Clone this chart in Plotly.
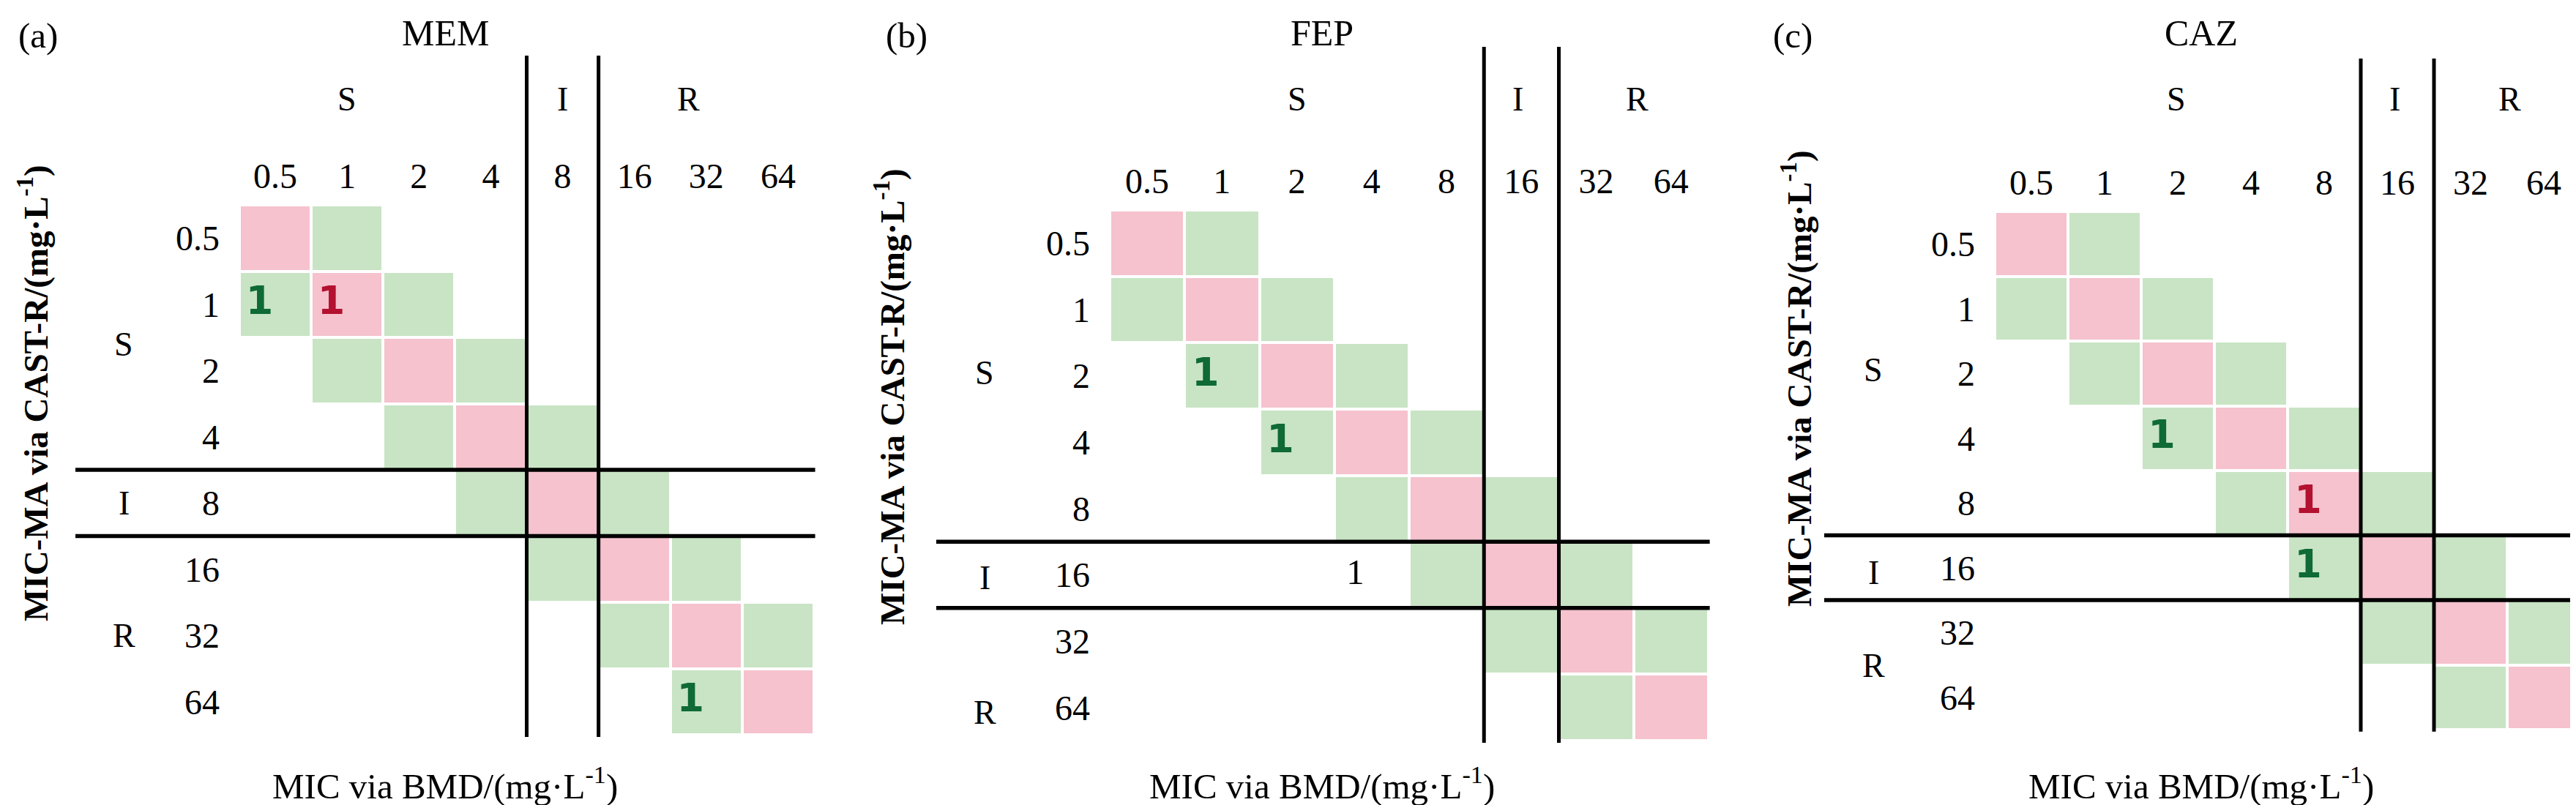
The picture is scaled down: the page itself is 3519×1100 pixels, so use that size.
import plotly.graph_objects as go

# ---------------- data ----------------
mic_levels = ["0.5", "1", "2", "4", "8", "16", "32", "64"]

drug_names = ["MEM", "FEP", "CAZ"]
panel_letters = ["(a)", "(b)", "(c)"]
category_labels = ["S", "I", "R"]

# cell class per (row = MIC-MA via CAST-R, column = MIC via BMD):
# 2 = identical MIC (pink), 1 = within one dilution (green), 0 = empty
mem_cells = [
    [2, 1, 0, 0, 0, 0, 0, 0],
    [1, 2, 1, 0, 0, 0, 0, 0],
    [0, 1, 2, 1, 0, 0, 0, 0],
    [0, 0, 1, 2, 1, 0, 0, 0],
    [0, 0, 0, 1, 2, 1, 0, 0],
    [0, 0, 0, 0, 1, 2, 1, 0],
    [0, 0, 0, 0, 0, 1, 2, 1],
    [0, 0, 0, 0, 0, 0, 1, 2],
]
fep_cells = [
    [2, 1, 0, 0, 0, 0, 0, 0],
    [1, 2, 1, 0, 0, 0, 0, 0],
    [0, 1, 2, 1, 0, 0, 0, 0],
    [0, 0, 1, 2, 1, 0, 0, 0],
    [0, 0, 0, 1, 2, 1, 0, 0],
    [0, 0, 0, 0, 1, 2, 1, 0],
    [0, 0, 0, 0, 0, 1, 2, 1],
    [0, 0, 0, 0, 0, 0, 1, 2],
]
caz_cells = [
    [2, 1, 0, 0, 0, 0, 0, 0],
    [1, 2, 1, 0, 0, 0, 0, 0],
    [0, 1, 2, 1, 0, 0, 0, 0],
    [0, 0, 1, 2, 1, 0, 0, 0],
    [0, 0, 0, 1, 2, 1, 0, 0],
    [0, 0, 0, 0, 1, 2, 1, 0],
    [0, 0, 0, 0, 0, 1, 2, 1],
    [0, 0, 0, 0, 0, 0, 1, 2],
]

# isolate counts written in cells
mem_count_cast = ["1", "1", "64"]
mem_count_bmd = ["0.5", "1", "32"]
mem_count_n = [1, 1, 1]

fep_count_cast = ["2", "4", "16"]
fep_count_bmd = ["1", "2", "4"]
fep_count_n = [1, 1, 1]

caz_count_cast = ["4", "8", "16"]
caz_count_bmd = ["2", "8", "8"]
caz_count_n = [1, 1, 1]

# breakpoints: S <= s_max, R >= r_min
mem_s_max, mem_r_min = "4", "16"
fep_s_max, fep_r_min = "8", "32"
caz_s_max, caz_r_min = "8", "32"

# ---------------- layout constants (pixels) ----------------
W, H = 3519, 1100
SERIF = "Liberation Serif"
PINK = "#F5C2CE"
GREEN = "#C8E4C4"
TXT_GREEN = "#0F6A35"
TXT_RED = "#B3112F"

panel_px = [
    dict(gx=(319, 1104), gy=(272, 996), vtop=68, hleft=95, letter_x=44, title_x=600,
         ytitle=(37, 529), group_x=161, top_groups=(1.0, 4.0, 5.75), left_groups=(1.6, 4.0, 6.0)),
    dict(gx=(1508, 2326), gy=(279, 1004), vtop=56, hleft=1271, letter_x=1230, title_x=1798,
         ytitle=(1207, 534), group_x=1337, top_groups=(2.0, 4.95, 6.55), left_groups=(1.96, 5.04, 7.07)),
    dict(gx=(2717, 3517), gy=(281, 989), vtop=72, hleft=2484, letter_x=2441, title_x=2999,
         ytitle=(2447, 509), group_x=2551, top_groups=(1.98, 4.96, 6.53), left_groups=(1.95, 5.08, 6.51)),
]

panels = [
    (mem_cells, mem_count_cast, mem_count_bmd, mem_count_n, mem_s_max, mem_r_min),
    (fep_cells, fep_count_cast, fep_count_bmd, fep_count_n, fep_s_max, fep_r_min),
    (caz_cells, caz_count_cast, caz_count_bmd, caz_count_n, caz_s_max, caz_r_min),
]


def idx(v):
    return mic_levels.index(v)


fig = go.Figure()
shapes = []
annotations = []
layout_axes = {}
n_lev = len(mic_levels)
positions = list(range(n_lev))

for k, (cells, ccast, cbmd, cn, smax, rmin) in enumerate(panels):
    px = panel_px[k]
    sfx = "" if k == 0 else str(k + 1)
    xa, ya = "x" + sfx, "y" + sfx
    gx0, gx1 = px["gx"]
    gy0, gy1 = px["gy"]

    z = [[(c if c else None) for c in row] for row in cells]
    fig.add_trace(go.Heatmap(
        z=z, x=positions, y=positions, xaxis=xa, yaxis=ya,
        colorscale=[[0, GREEN], [0.5, GREEN], [0.5, PINK], [1, PINK]],
        zmin=1, zmax=2, showscale=False, xgap=4, ygap=4, hoverinfo="skip",
    ))

    # counts
    band_x, band_y, band_t, band_c = [], [], [], []
    off_x, off_y, off_t = [], [], []
    for r, c, n in zip(ccast, cbmd, cn):
        ri, ci = idx(r), idx(c)
        cls = cells[ri][ci]
        if cls:
            band_x.append(ci - 0.22)
            band_y.append(ri)
            band_t.append(str(n))
            band_c.append(TXT_RED if cls == 2 else TXT_GREEN)
        else:
            off_x.append(ci - 0.22)
            off_y.append(ri)
            off_t.append(str(n))
    if band_x:
        fig.add_trace(go.Scatter(
            x=band_x, y=band_y, text=band_t, mode="text", xaxis=xa, yaxis=ya,
            textposition="middle center", hoverinfo="skip", showlegend=False,
            textfont=dict(family="DejaVu Sans", size=54, color=band_c, weight="bold"),
        ))
    if off_x:
        fig.add_trace(go.Scatter(
            x=off_x, y=off_y, text=off_t, mode="text", xaxis=xa, yaxis=ya,
            textposition="middle center", hoverinfo="skip", showlegend=False,
            textfont=dict(family=SERIF, size=49, color="black"),
        ))

    axis_common = dict(showgrid=False, zeroline=False, showline=False, ticks="",
                       tickmode="array", tickvals=positions, ticktext=mic_levels,
                       tickfont=dict(family=SERIF, size=48, color="black"), fixedrange=True)
    layout_axes["xaxis" + sfx] = dict(axis_common, domain=[gx0 / W, gx1 / W], range=[-0.5, n_lev - 0.5],
                                      side="top", anchor=ya, ticklabelstandoff=12)
    layout_axes["yaxis" + sfx] = dict(axis_common, domain=[1 - gy1 / H, 1 - gy0 / H],
                                      range=[n_lev - 0.5, -0.5], side="left", anchor=xa,
                                      ticklabelstandoff=26)

    # breakpoint separators
    cuts = [idx(smax) + 0.5, idx(rmin) - 0.5]
    gh = gy1 - gy0
    gw = gx1 - gx0
    for cpos in cuts:
        shapes.append(dict(type="line", xref=xa, yref=ya + " domain", x0=cpos, x1=cpos,
                           y0=-0.004, y1=1 + (gy0 - px["vtop"]) / gh,
                           line=dict(color="black", width=5), layer="above"))
        shapes.append(dict(type="line", xref=xa + " domain", yref=ya, x0=(px["hleft"] - gx0) / gw, x1=1.002,
                           y0=cpos, y1=cpos, line=dict(color="black", width=5.5), layer="above"))

    # S / I / R group labels
    for lab, pos in zip(category_labels, px["top_groups"]):
        annotations.append(dict(text=lab, xref=xa, yref="paper", x=pos, y=1 - 128 / H,
                                showarrow=False, xanchor="center", yanchor="middle",
                                font=dict(family=SERIF, size=46, color="black")))
    for lab, pos in zip(category_labels, px["left_groups"]):
        annotations.append(dict(text=lab, xref="paper", yref=ya, x=px["group_x"] / W, y=pos,
                                showarrow=False, xanchor="center", yanchor="middle",
                                font=dict(family=SERIF, size=46, color="black")))

    # titles
    annotations.append(dict(text=drug_names[k], xref="paper", yref="paper", x=px["title_x"] / W,
                            y=1 - 37 / H, showarrow=False, xanchor="center", yanchor="middle",
                            font=dict(family=SERIF, size=50, color="black")))
    annotations.append(dict(text=panel_letters[k], xref="paper", yref="paper", x=px["letter_x"] / W,
                            y=1 - 40 / H, showarrow=False, xanchor="center", yanchor="middle",
                            font=dict(family=SERIF, size=49, color="black")))
    annotations.append(dict(text="MIC via BMD/(mg·L<sup>-1</sup>)", xref="paper", yref="paper",
                            x=px["title_x"] / W, y=1 - 1062 / H, showarrow=False,
                            xanchor="center", yanchor="middle",
                            font=dict(family=SERIF, size=49, color="black")))
    annotations.append(dict(text="<b>MIC-MA via CAST-R/(mg·L<sup>-1</sup>)</b>", xref="paper", yref="paper",
                            x=px["ytitle"][0] / W, y=1 - px["ytitle"][1] / H, textangle=-90,
                            showarrow=False, xanchor="center", yanchor="middle",
                            font=dict(family=SERIF, size=47, color="black")))

fig.update_layout(
    width=W, height=H,
    margin=dict(l=0, r=0, t=0, b=0),
    paper_bgcolor="white", plot_bgcolor="white",
    showlegend=False,
    shapes=shapes, annotations=annotations,
    **layout_axes,
)

fig.write_html("out.html")
